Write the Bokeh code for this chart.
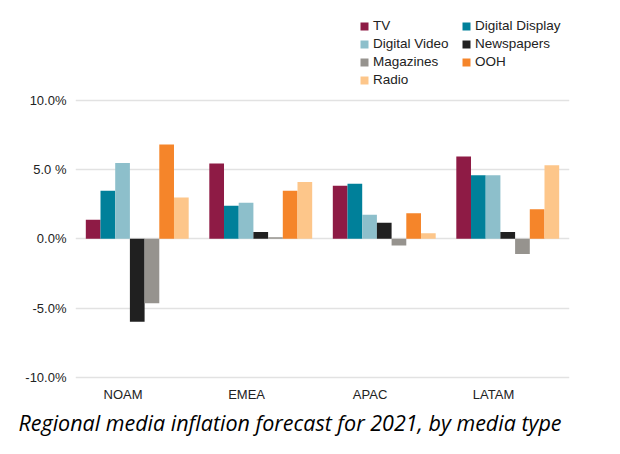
from bokeh.plotting import figure
from bokeh.models import Range1d, FixedTicker, Title, Legend
from bokeh.embed import file_html
from bokeh.resources import INLINE

regions = ["NOAM", "EMEA", "APAC", "LATAM"]
media = ["TV", "Digital Display", "Digital Video", "Newspapers", "Magazines", "OOH", "Radio"]
tv = [1.37, 5.43, 3.82, 5.94]
digital_display = [3.46, 2.38, 3.97, 4.59]
digital_video = [5.46, 2.60, 1.73, 4.59]
newspapers = [-5.99, 0.50, 1.15, 0.50]
magazines = [-4.64, 0.12, -0.48, -1.10]
ooh = [6.80, 3.46, 1.85, 2.14]
radio = [2.98, 4.09, 0.41, 5.31]
y_ticks = [-10, -5, 0, 5, 10]
y_tick_labels = ["-10.0%", "-5.0%", "0.0%", "5.0 %", "10.0%"]
title_text = "Regional media inflation forecast for 2021, by media type"

series = [tv, digital_display, digital_video, newspapers, magazines, ooh, radio]
colors = ["#8E1B45", "#00809A", "#8DBFCB", "#202020", "#96938E", "#F5852A", "#FDC68A"]

p = figure(width=620, height=454, output_backend="svg", toolbar_location=None,
           x_range=Range1d(0, len(regions)), y_range=Range1d(-10.22, 16.18),
           min_border_left=75, min_border_right=51, min_border_top=14, min_border_bottom=74)
p.outline_line_color = None
p.background_fill_color = "white"

bw = 0.119
offsets = [(i - 3) * bw for i in range(7)]
renderers = []
for name, vals, col, off in zip(media, series, colors, offsets):
    xs = [i + 0.5 + off for i in range(len(regions))]
    r = p.vbar(x=xs, top=vals, bottom=0, width=bw, fill_color=col, line_color=None)
    renderers.append((name, [r]))

legend = Legend(items=renderers, location=(284, 293), orientation="horizontal", ncols=2,
                glyph_width=10, glyph_height=10, label_height=14, label_width=85,
                label_standoff=4, spacing=3, padding=0, margin=0,
                label_text_font="Liberation Sans", label_text_font_size="13.5px",
                label_text_color="#222222", border_line_color=None,
                background_fill_alpha=0)
p.add_layout(legend)

p.xaxis.ticker = FixedTicker(ticks=[i + 0.5 - 0.115 for i in range(len(regions))])
p.xaxis.major_label_overrides = {i + 0.5 - 0.115: r for i, r in enumerate(regions)}
p.yaxis.ticker = FixedTicker(ticks=y_ticks)
p.yaxis.major_label_overrides = {t: l for t, l in zip(y_ticks, y_tick_labels)}

for ax in (p.xaxis[0], p.yaxis[0]):
    ax.axis_line_color = None
    ax.major_tick_line_color = None
    ax.minor_tick_line_color = None
    ax.major_tick_out = 0
    ax.major_label_text_font = "Liberation Sans"
    ax.major_label_text_font_size = "13px"
    ax.major_label_text_color = "#222222"
p.xaxis.major_label_standoff = 6
p.yaxis.major_label_standoff = 9

p.xgrid.grid_line_color = None
p.ygrid.grid_line_color = "#E2E2E2"
p.ygrid.grid_line_width = 1.5

t = Title(text=title_text, align="left", offset=-57, text_font="Open Sans",
          text_font_style="italic", text_font_size="21.5px", text_color="black",
          standoff=3)
p.add_layout(t, "below")

open("out.html", "w").write(file_html(p, INLINE))
